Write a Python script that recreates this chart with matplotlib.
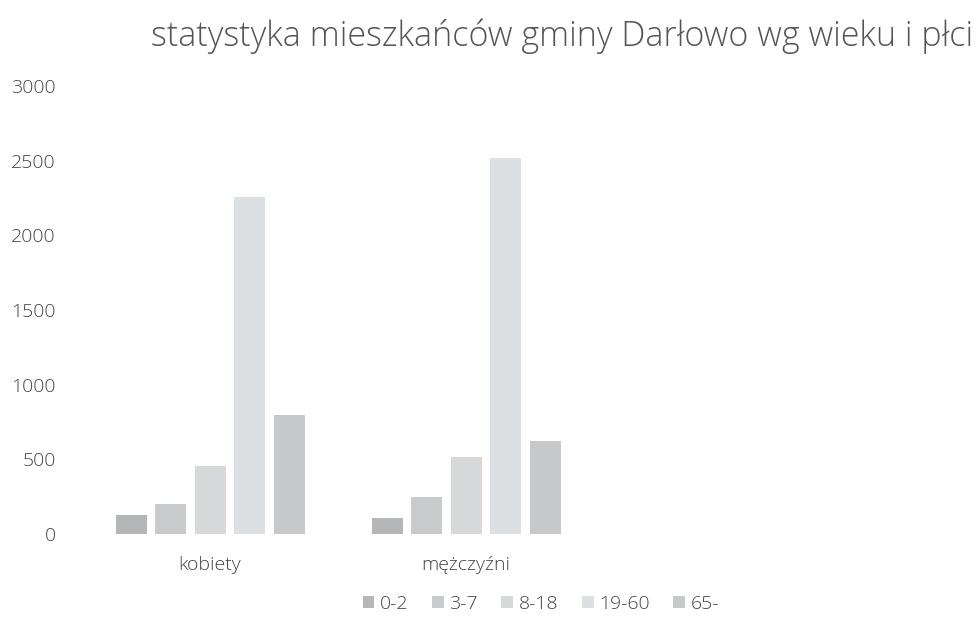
import numpy as np
import matplotlib.pyplot as plt

categories = ['kobiety', 'mężczyźni']
age_groups = ['0-2', '3-7', '8-18', '19-60', '65-']
values = {
    '0-2': [130, 110],
    '3-7': [200, 245],
    '8-18': [455, 515],
    '19-60': [2260, 2520],
    '65-': [800, 620],
}
yticks = [0, 500, 1000, 1500, 2000, 2500, 3000]

colors = ['#b4b6b8', '#c8cacc', '#d6d8da', '#dde0e2', '#c6c8ca']

plt.rcParams['font.family'] = ['Open Sans', 'DejaVu Sans']
plt.rcParams['font.weight'] = 'light'

fig = plt.figure(figsize=(9.78, 6.29), dpi=100)
ax = fig.add_axes([82 / 978, 1 - 534 / 629, (594 - 82) / 978, (534 - 86) / 629])

x = np.arange(len(categories))
step = 39.5 / 256
width = 31 / 256
for i, g in enumerate(age_groups):
    ax.bar(x + (i - 2) * step, values[g], width, color=colors[i], label=g)

ax.set_xlim(-0.5, 1.5)
ax.set_ylim(0, 3000)
ax.set_yticks(yticks)
ax.set_yticklabels([str(v) for v in yticks], fontsize=14, color='#444444')
ax.set_xticks(x)
ax.set_xticklabels(categories, fontsize=14, color='#444444')
ax.tick_params(axis='both', length=0)
ax.tick_params(axis='y', pad=19)
ax.tick_params(axis='x', pad=16)
for s in ax.spines.values():
    s.set_visible(False)

fig.text(562 / 978, 1 - 36 / 629, 'statystyka mieszkańców gminy Darłowo wg wieku i płci',
         ha='center', va='center', fontsize=24.5, color='#555555')

fig.legend(loc='center', bbox_to_anchor=(541 / 978, 1 - 604 / 629), ncol=5,
           frameon=False, fontsize=14, handlelength=0.6, handleheight=0.6,
           handletextpad=0.3, columnspacing=1.2, labelcolor='#444444')

fig.savefig('out.png', dpi=100)
